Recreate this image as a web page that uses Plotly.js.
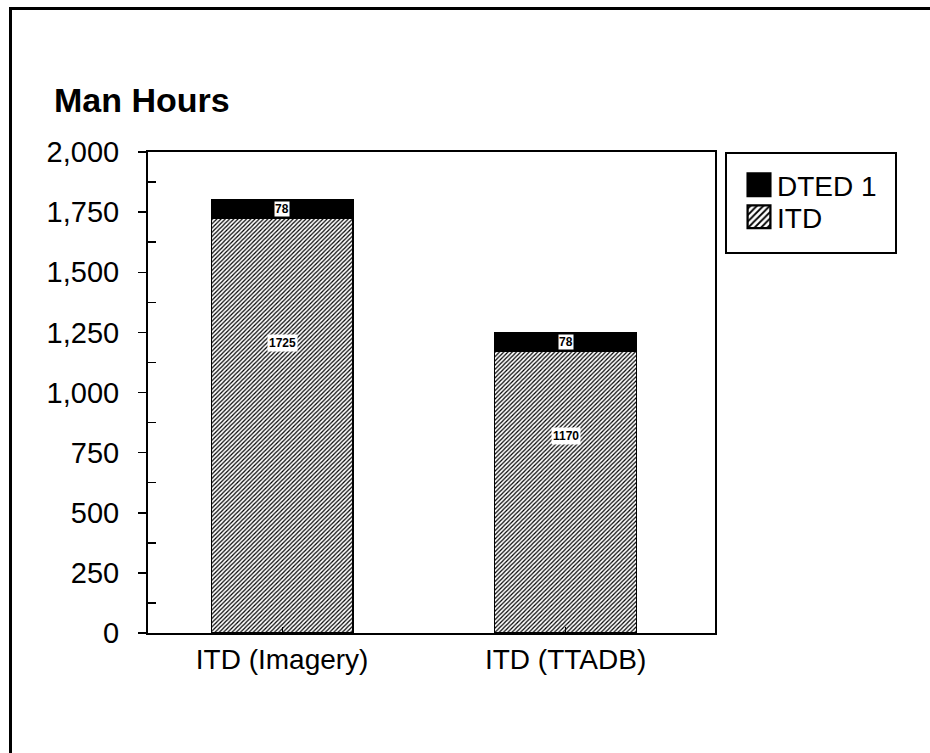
<!DOCTYPE html>
<html>
<head>
<meta charset="utf-8">
<script src="https://cdn.plot.ly/plotly-3.0.1.min.js"></script>
<style>
html,body{margin:0;padding:0;background:#fff;}
#wrap{position:relative;width:930px;height:753px;overflow:hidden;}
#frame{position:absolute;left:9px;top:7px;width:940px;height:760px;border-top:3px solid #000;border-left:3px solid #000;pointer-events:none;z-index:5;}
#chart{position:absolute;left:0;top:0;width:930px;height:753px;}
</style>
</head>
<body>
<div id="wrap">
<div id="chart"></div>
<div id="frame"></div>
</div>
<script>
const categories = ["ITD (Imagery)", "ITD (TTADB)"];
const itdValues = [1725, 1170];
const dtedValues = [78, 78];
const seriesNames = ["ITD", "DTED 1"];
const yTickVals = [0, 250, 500, 750, 1000, 1250, 1500, 1750, 2000];
const yMinorTickVals = [125, 375, 625, 875, 1125, 1375, 1625, 1875];

const FONT = "Liberation Sans, Arial, Helvetica, sans-serif";
const W = 930, H = 753;
const M = {l: 148, r: 215, t: 152, b: 120};
const pw = W - M.l - M.r, ph = H - M.t - M.b;
const px2x = p => (p - M.l) / pw;
const px2y = p => 1 - (p - M.t) / ph;

const traces = [
  {
    type: "bar", name: seriesNames[0], x: categories, y: itdValues, width: 0.5,
    marker: {color: "#ffffff", line: {color: "#000", width: 1.2},
      pattern: {shape: "/", fgcolor: "#000", bgcolor: "#fff", size: 3, solidity: 0.4}},
    hoverinfo: "skip"
  },
  {
    type: "bar", name: seriesNames[1], x: categories, y: dtedValues, width: 0.5,
    marker: {color: "#000", line: {color: "#000", width: 1.2}},
    hoverinfo: "skip"
  },
  {
    type: "scatter", x: [], y: [], yaxis: "y2", showlegend: false, hoverinfo: "skip"
  }
];

const annotations = [];
categories.forEach((c, i) => {
  annotations.push({x: c, y: itdValues[i] * 0.7, xref: "x", yref: "y", text: "<b>" + itdValues[i] + "</b>",
    showarrow: false, bgcolor: "#fff", borderpad: 1,
    font: {family: FONT, size: 12, color: "#000"}});
  annotations.push({x: c, y: itdValues[i] + dtedValues[i] / 2, xref: "x", yref: "y", text: "<b>" + dtedValues[i] + "</b>",
    showarrow: false, bgcolor: "#fff", borderpad: 0,
    font: {family: FONT, size: 12, color: "#000"}});
});

const layout = {
  width: W, height: H,
  margin: M,
  paper_bgcolor: "#fff", plot_bgcolor: "#fff",
  barmode: "stack",
  showlegend: true,
  font: {family: FONT, color: "#000"},
  title: {text: "<b>Man Hours</b>", font: {family: FONT, size: 34, color: "#000"},
    xref: "container", yref: "container", x: 54 / W, xanchor: "left", y: 1 - 100 / H, yanchor: "middle"},
  xaxis: {
    range: [-0.473, 1.527], fixedrange: true,
    showline: true, linecolor: "#000", linewidth: 2, mirror: true,
    ticks: "inside", ticklen: 6, tickcolor: "#000", tickwidth: 1,
    tickfont: {family: FONT, size: 28, color: "#000"},
    showgrid: false, zeroline: false
  },
  yaxis: {
    range: [0, 2000], fixedrange: true,
    tickvals: yTickVals, tickformat: ",",
    showline: true, linecolor: "#000", linewidth: 2, mirror: true,
    ticks: "outside", ticklen: 8, tickcolor: "#000", tickwidth: 1.5,
    ticklabelstandoff: 13,
    tickfont: {family: FONT, size: 29, color: "#000"},
    showgrid: false, zeroline: false
  },
  yaxis2: {
    overlaying: "y", side: "left", range: [0, 2000], fixedrange: true,
    tickvals: yMinorTickVals, showticklabels: false,
    ticks: "inside", ticklen: 8, tickcolor: "#000", tickwidth: 1.5,
    showline: false, showgrid: false, zeroline: false
  },
  legend: {
    x: px2x(737), y: px2y(160), xanchor: "left", yanchor: "top",
    traceorder: "reversed", bgcolor: "rgba(0,0,0,0)", borderwidth: 0,
    font: {family: FONT, size: 28, color: "#000"},
    tracegroupgap: 0, itemwidth: 30
  },
  shapes: [
    {type: "rect", xref: "paper", yref: "paper",
      x0: px2x(726), x1: px2x(896), y0: px2y(253), y1: px2y(153),
      line: {color: "#000", width: 2}, fillcolor: "rgba(0,0,0,0)"}
  ],
  annotations: annotations
};

Plotly.newPlot("chart", traces, layout, {displayModeBar: false, staticPlot: true}).then(gd => {
  const items = gd.querySelectorAll(".legend .traces");
  let y0 = null;
  items.forEach((g, k) => {
    const m = /translate\(([-\d.]+),\s*([-\d.]+)\)/.exec(g.getAttribute("transform") || "");
    if (!m) return;
    const tx = parseFloat(m[1]), ty = parseFloat(m[2]);
    if (y0 === null) y0 = ty;
    g.setAttribute("transform", "translate(" + tx + "," + (y0 + k * 32) + ")");
  });
  gd.querySelectorAll(".legendpoints path").forEach(p => {
    const t = p.getAttribute("transform") || "";
    p.setAttribute("transform", t + " translate(2,0) scale(1.9)");
  });
});
</script>
</body>
</html>
